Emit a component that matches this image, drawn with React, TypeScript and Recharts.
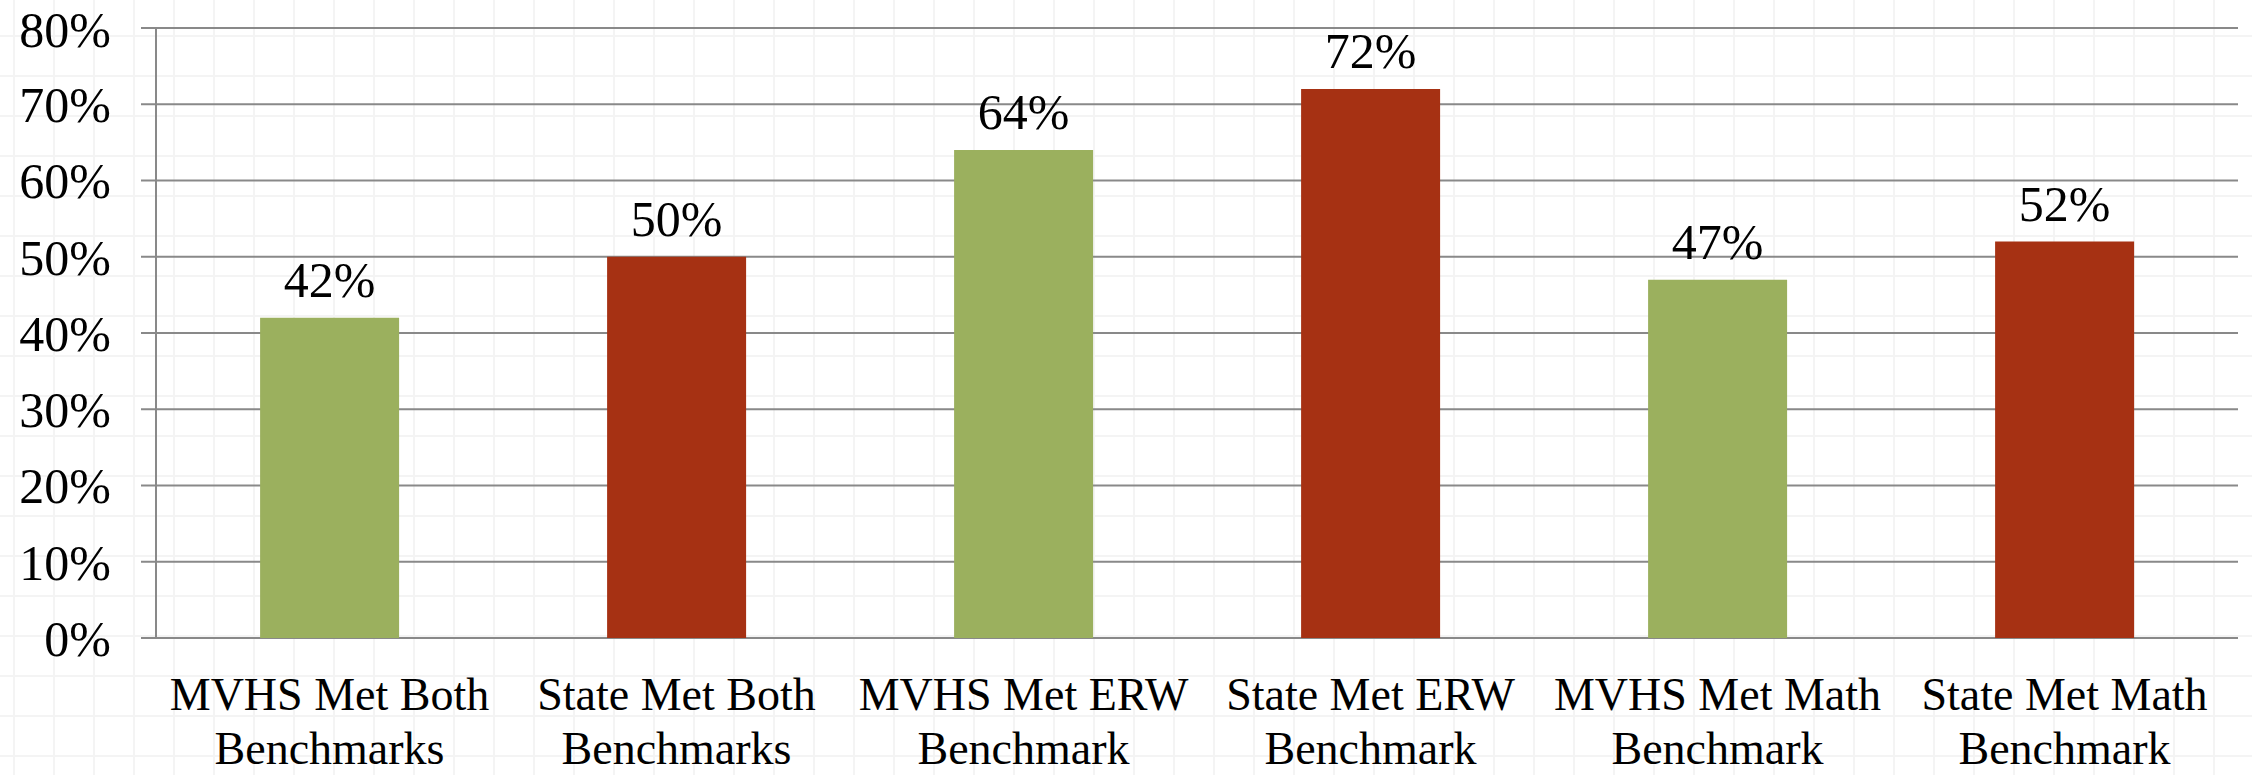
import { BarChart, Bar, XAxis, YAxis, CartesianGrid, Cell, LabelList } from "recharts"

const categories = [
  "MVHS Met Both Benchmarks",
  "State Met Both Benchmarks",
  "MVHS Met ERW Benchmark",
  "State Met ERW Benchmark",
  "MVHS Met Math Benchmark",
  "State Met Math Benchmark",
]
const groups = ["MVHS", "State", "MVHS", "State", "MVHS", "State"]
const values = [42, 50, 64, 72, 47, 52]
const yTicks = [0, 10, 20, 30, 40, 50, 60, 70, 80]

const groupColors: Record<string, string> = { MVHS: "#9BB05E", State: "#A63113" }
const FONT = "'Liberation Serif', 'Times New Roman', serif"
const GRID = "#898989"

const data = categories.map((name, i) => ({ name, group: groups[i], value: values[i] }))
const edgeTicks = categories.map((_, i) => i).concat(categories.length)

// two-line category label: last word goes on the second line
function CategoryTick({ x, y, payload }: any) {
  const words = String(payload.value).split(" ")
  const last = words.pop()
  return (
    <text x={x} y={y} textAnchor="middle" fontFamily={FONT} fontSize={46} fill="#000">
      <tspan x={x} dy={72}>{words.join(" ")}</tspan>
      <tspan x={x} dy={54}>{last}</tspan>
    </text>
  )
}

export default function App() {
  return (
    <div
      style={{
        position: "absolute",
        left: 0,
        top: 0,
        width: 2252,
        height: 775,
        background: "#fff",
        backgroundImage:
          "linear-gradient(to right, #f4f4f4 2px, transparent 2px), linear-gradient(to bottom, #f4f4f4 2px, transparent 2px)",
        backgroundSize: "40px 40px",
        backgroundPosition: "13px 35px",
      }}
    >
      <BarChart
        width={2252}
        height={775}
        data={data}
        margin={{ top: 28, right: 14, left: 0, bottom: 0 }}
        barCategoryGap="30%"
      >
        <CartesianGrid xAxisId="cat" vertical={false} stroke={GRID} strokeWidth={2} />
        <XAxis
          xAxisId="cat"
          dataKey="name"
          type="category"
          height={137}
          axisLine={false}
          tickLine={false}
          tickSize={0}
          tickMargin={0}
          interval={0}
          tick={<CategoryTick />}
        />
        <XAxis
          xAxisId="edges"
          type="number"
          domain={[0, categories.length]}
          ticks={edgeTicks}
          allowDataOverflow
          height={0}
          axisLine={{ stroke: GRID, strokeWidth: 2 }}
          tickLine={{ stroke: GRID, strokeWidth: 2 }}
          tickSize={14}
          tickFormatter={() => ""}
        />
        <YAxis
          width={156}
          domain={[0, 80]}
          ticks={yTicks}
          allowDataOverflow
          axisLine={{ stroke: GRID, strokeWidth: 2 }}
          tickLine={{ stroke: GRID, strokeWidth: 2 }}
          tickSize={15}
          tickMargin={30}
          tickFormatter={(v) => `${v}%`}
          tick={{ fill: "#000", fontSize: 50, fontFamily: FONT }}
        />
        <Bar xAxisId="cat" dataKey="value" isAnimationActive={false}>
          {data.map((d) => (
            <Cell key={d.name} fill={groupColors[d.group]} />
          ))}
          <LabelList
            dataKey="value"
            position="top"
            offset={21}
            formatter={(v: any) => `${v}%`}
            fill="#000"
            fontSize={50}
            fontFamily={FONT}
          />
        </Bar>
      </BarChart>
    </div>
  )
}
